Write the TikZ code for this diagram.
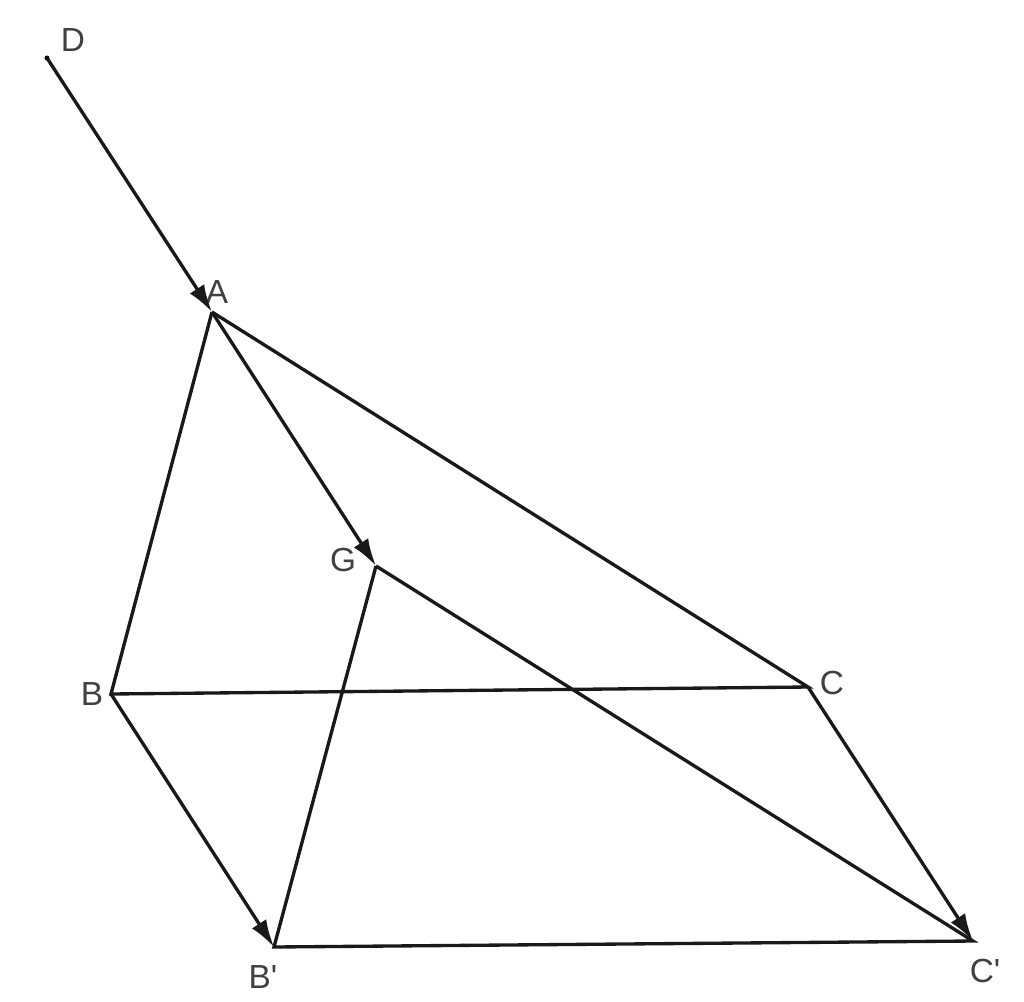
\documentclass[tikz,border=0pt]{standalone}
\usepackage{fontspec}
\setmainfont{Liberation Sans}[Ligatures=TeXOff]
\usepackage{tikz}
\usetikzlibrary{arrows.meta}

\tikzset{
  seg/.style={line width=1.9pt, black!90},
  vec/.style={seg, -{Latex[length=0.55cm,width=0.34cm]}},
  lbl/.style={text=black!75, font=\fontsize{19}{22}\selectfont, inner sep=0pt}
}

\begin{document}
\begin{tikzpicture}[x=0.02cm, y=-0.02cm]
\useasboundingbox (0,0) rectangle (1024,1001);

\coordinate (D) at (47,58);
\coordinate (A) at (212,312);
\coordinate (G) at (376,566);
\coordinate (B) at (111,694);
\coordinate (C) at (808,687);
\coordinate (B') at (274,947);
\coordinate (C') at (973,941);

\fill[black] (D) circle (2.5);

\draw (73,40) node[lbl] (lD) {D};
\draw (217,292) node[lbl] (lA) {A};
\draw (343,560) node[lbl] (lG) {G};
\draw (92,694) node[lbl] (lB) {B};
\draw (832,683) node[lbl] (lC) {C};
\draw (263,977) node[lbl] (lB') {B'};
\draw (985,971) node[lbl] (lC') {C'};

\draw [seg] (A) -- (B) -- (C) -- (A);
\draw [seg] (G) -- (B') -- (C') -- (G);

\draw [vec] (D) -- (A);
\draw [vec] (A) -- (G);
\draw [vec] (B) -- (B');
\draw [vec] (C) -- (C');

\end{tikzpicture}
\end{document}
